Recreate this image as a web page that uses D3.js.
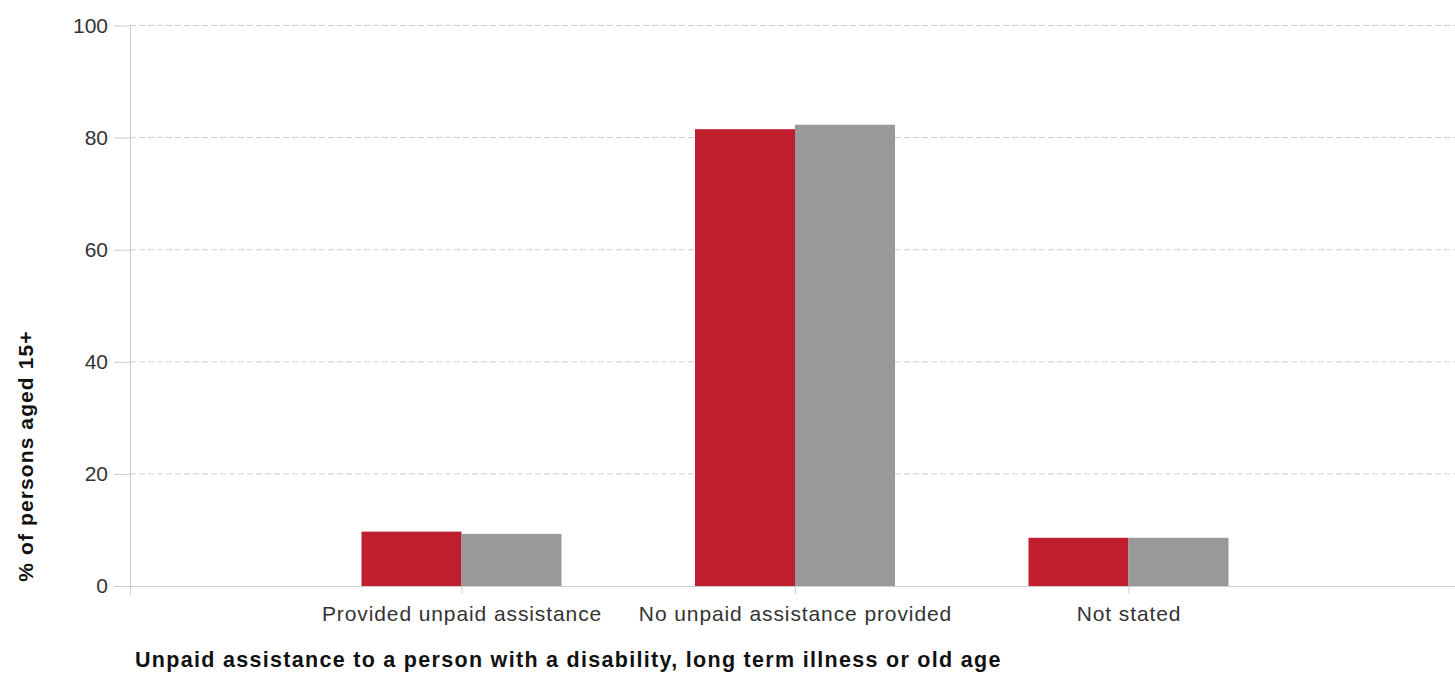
<!DOCTYPE html>
<html>
<head>
<meta charset="utf-8">
<script src="https://cdn.jsdelivr.net/npm/d3@7"></script>
<style>
  html, body { margin: 0; padding: 0; background: #fff; }
  svg { display: block; }
</style>
</head>
<body>
<svg id="chart" width="1455" height="673"></svg>
<script>
// ---- data ----
const categories = ["Provided unpaid assistance", "No unpaid assistance provided", "Not stated"];
const seriesNames = ["Selected area", "Australia"];
const areaValues = [9.7, 81.5, 8.6];
const australiaValues = [9.3, 82.3, 8.6];
const yTicks = [0, 20, 40, 60, 80, 100];
const yTitle = "% of persons aged 15+";
const xTitle = "Unpaid assistance to a person with a disability, long term illness or old age";
const colors = ["#BE1E2D", "#999999"];

const rows = categories.map((c, i) => ({ cat: c, values: [areaValues[i], australiaValues[i]] }));

const svg = d3.select("#chart");
const W = 1455, H = 673;
const plotLeft = 130, plotTop = 25.5, plotBottom = 586;

const y = d3.scaleLinear().domain([0, 100]).range([plotBottom, plotTop]);
const x = d3.scalePoint().domain(categories).range([128, 1462]).padding(1);
const xs = d3.scaleBand().domain(seriesNames).range([-100, 100]).padding(0);
const color = d3.scaleOrdinal().domain(seriesNames).range(colors);

// gridlines (dashed)
svg.append("g")
  .selectAll("line")
  .data(yTicks.filter(d => d !== 0))
  .join("line")
  .attr("x1", plotLeft).attr("x2", W)
  .attr("y1", d => y(d)).attr("y2", d => y(d))
  .attr("stroke", "#cfcfcf")
  .attr("stroke-width", 1)
  .attr("stroke-dasharray", "6,3");

// y axis
const yAxis = svg.append("g")
  .attr("transform", `translate(${plotLeft},0)`)
  .call(d3.axisLeft(y).tickValues(yTicks).tickSize(16).tickPadding(6));
yAxis.select(".domain").remove();
yAxis.selectAll(".tick line").attr("stroke", "#cccccc");
yAxis.selectAll(".tick text")
  .attr("fill", "#333")
  .style("font-family", "'Liberation Sans', Arial, sans-serif")
  .style("font-size", "21px");

// y axis vertical line
svg.append("line")
  .attr("x1", plotLeft + 0.5).attr("x2", plotLeft + 0.5)
  .attr("y1", plotTop).attr("y2", plotBottom + 9)
  .attr("stroke", "#cccccc");

// bars
const groups = svg.append("g")
  .selectAll("g")
  .data(rows)
  .join("g")
  .attr("transform", d => `translate(${x(d.cat)},0)`);

groups.selectAll("rect")
  .data(d => d.values.map((v, i) => ({ key: seriesNames[i], v })))
  .join("rect")
  .attr("x", d => xs(d.key))
  .attr("width", xs.bandwidth())
  .attr("y", d => y(d.v))
  .attr("height", d => y(0) - y(d.v))
  .attr("fill", d => color(d.key));

// x axis
const xAxis = svg.append("g")
  .attr("transform", `translate(0,${plotBottom})`)
  .call(d3.axisBottom(x).tickSize(8).tickPadding(12));
xAxis.select(".domain").remove();
xAxis.selectAll(".tick line").attr("stroke", "#cccccc");
xAxis.selectAll(".tick text")
  .attr("fill", "#333")
  .style("font-family", "'Liberation Sans', Arial, sans-serif")
  .style("font-size", "21px")
  .style("letter-spacing", "0.9px");

// x axis baseline
svg.append("line")
  .attr("x1", 114).attr("x2", W)
  .attr("y1", plotBottom + 0.5).attr("y2", plotBottom + 0.5)
  .attr("stroke", "#cccccc");

// axis titles
svg.append("text")
  .attr("transform", `translate(33,456) rotate(-90)`)
  .attr("text-anchor", "middle")
  .attr("fill", "#111")
  .style("font-family", "'Liberation Sans', Arial, sans-serif")
  .style("font-weight", "bold")
  .style("font-size", "21px")
  .style("letter-spacing", "1.1px")
  .text(yTitle);

svg.append("text")
  .attr("x", 135).attr("y", 667)
  .attr("fill", "#111")
  .style("font-family", "'Liberation Sans', Arial, sans-serif")
  .style("font-weight", "bold")
  .style("font-size", "21.5px")
  .style("letter-spacing", "1.3px")
  .text(xTitle);
</script>
</body>
</html>
